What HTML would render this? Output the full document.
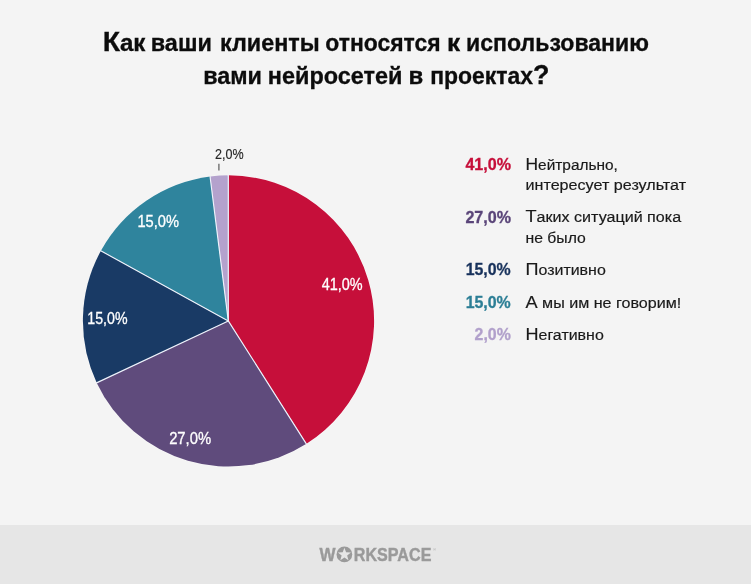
<!DOCTYPE html>
<html lang="ru">
<head>
<meta charset="utf-8">
<title>Как ваши клиенты относятся к использованию вами нейросетей в проектах?</title>
<style>
html,body{margin:0;padding:0;background:#f4f4f4;}
body{width:751px;height:584px;overflow:hidden;}
svg{display:block;}
text{font-family:"Liberation Sans","DejaVu Sans",sans-serif;}
.title{font-weight:bold;fill:#0c0c0c;stroke:#0c0c0c;stroke-width:0.3;}
.pl{font-size:16px;fill:#ffffff;stroke:#ffffff;stroke-width:0.3;}
.pl2{font-size:14px;fill:#262626;stroke:#262626;stroke-width:0.15;}
.lp{font-size:16px;font-weight:bold;stroke-width:0.3;}
.cap{font-size:17.4px;}
.lt{font-size:15.4px;fill:#1a1a1a;stroke:#1a1a1a;stroke-width:0.18;}
.logo{font-size:17.9px;font-weight:bold;fill:#9a9a9a;stroke:#9a9a9a;stroke-width:0.4;}
.reg{font-size:4.2px;fill:#a8a8a8;}
</style>
</head>
<body>
<svg width="751" height="584" viewBox="0 0 751 584">
<rect x="0" y="0" width="751" height="584" fill="#f4f4f4"/>
<rect x="0" y="525" width="751" height="59" fill="#e6e6e6"/>
<circle cx="228.5" cy="320.9" r="146.0" fill="#fbfbfb"/>
<path d="M228.3,320.9 L228.50,175.30 A145.6,145.6 0 0 1 306.52,443.83 Z" fill="#c60f3a"/>
<path d="M228.3,320.9 L306.52,443.83 A145.6,145.6 0 0 1 96.76,382.89 Z" fill="#5f4b7c"/>
<path d="M228.3,320.9 L96.76,382.89 A145.6,145.6 0 0 1 100.91,250.76 Z" fill="#193a65"/>
<path d="M228.3,320.9 L100.91,250.76 A145.6,145.6 0 0 1 210.25,176.45 Z" fill="#2f849d"/>
<path d="M228.3,320.9 L210.25,176.45 A145.6,145.6 0 0 1 228.50,175.30 Z" fill="#b4a2cd"/>
<g stroke="#eef2fb" stroke-width="1.15" stroke-linecap="round">
<line x1="228.3" y1="320.9" x2="228.30" y2="175.30"/>
<line x1="228.3" y1="320.9" x2="306.32" y2="443.83"/>
<line x1="228.3" y1="320.9" x2="96.56" y2="382.89"/>
<line x1="228.3" y1="320.9" x2="100.71" y2="250.76"/>
<line x1="228.3" y1="320.9" x2="210.05" y2="176.45"/>
</g>
<line x1="218.9" y1="163.8" x2="218.9" y2="170.5" stroke="#666" stroke-width="1.3"/>
<g class="title">
<text x="102.65" y="50.8" textLength="42.81" lengthAdjust="spacingAndGlyphs" class="title" font-size="23.0"><tspan font-size="27">К</tspan>ак</text>
<text x="150.76" y="50.8" textLength="61.08" lengthAdjust="spacingAndGlyphs" class="title" font-size="23.0">ваши</text>
<text x="220.04" y="50.8" textLength="99.66" lengthAdjust="spacingAndGlyphs" class="title" font-size="23.0">клиенты</text>
<text x="325.32" y="50.8" textLength="115.17" lengthAdjust="spacingAndGlyphs" class="title" font-size="23.0">относятся</text>
<text x="447.14" y="50.8" textLength="13.14" lengthAdjust="spacingAndGlyphs" class="title" font-size="23.0">к</text>
<text x="466.1" y="50.8" textLength="182.82" lengthAdjust="spacingAndGlyphs" class="title" font-size="23.0">использованию</text>
</g>
<g class="title">
<text x="203.2" y="83.5" textLength="58.77" lengthAdjust="spacingAndGlyphs" class="title" font-size="23.0">вами</text>
<text x="267.88" y="83.5" textLength="134.49" lengthAdjust="spacingAndGlyphs" class="title" font-size="23.0">нейросетей</text>
<text x="408.43" y="83.5" textLength="14.76" lengthAdjust="spacingAndGlyphs" class="title" font-size="23.0">в</text>
<text x="430.17" y="83.5" textLength="119.32" lengthAdjust="spacingAndGlyphs" class="title" font-size="23.0">проектах<tspan font-size="27">?</tspan></text>
</g>
<text x="321.64" y="289.7" textLength="40.91" lengthAdjust="spacingAndGlyphs" class="pl">41,0%</text>
<text x="169.14" y="443.6" textLength="41.99" lengthAdjust="spacingAndGlyphs" class="pl">27,0%</text>
<text x="87.33" y="323.5" textLength="40.19" lengthAdjust="spacingAndGlyphs" class="pl">15,0%</text>
<text x="137.45" y="226.5" textLength="41.55" lengthAdjust="spacingAndGlyphs" class="pl">15,0%</text>
<text x="215.01" y="159.4" textLength="28.63" lengthAdjust="spacingAndGlyphs" class="pl2">2,0%</text>
<text x="465.4" y="170.0" textLength="45.6" lengthAdjust="spacingAndGlyphs" class="lp" fill="#c60f3a" stroke="#c60f3a">41,0%</text>
<text x="525.5" y="170.0" textLength="92.4" lengthAdjust="spacingAndGlyphs" class="lt"><tspan class="cap">Н</tspan>ейтрально,</text>
<text x="525.5" y="190.1" textLength="160.6" lengthAdjust="spacingAndGlyphs" class="lt">интересует результат</text>
<text x="465.4" y="222.9" textLength="45.6" lengthAdjust="spacingAndGlyphs" class="lp" fill="#5a4579" stroke="#5a4579">27,0%</text>
<text x="525.5" y="222.4" textLength="155.6" lengthAdjust="spacingAndGlyphs" class="lt"><tspan class="cap">Т</tspan>аких ситуаций пока</text>
<text x="525.5" y="242.5" textLength="60.3" lengthAdjust="spacingAndGlyphs" class="lt">не было</text>
<text x="465.7" y="275.3" textLength="45.0" lengthAdjust="spacingAndGlyphs" class="lp" fill="#17315b" stroke="#17315b">15,0%</text>
<text x="525.5" y="275.3" textLength="80.3" lengthAdjust="spacingAndGlyphs" class="lt"><tspan class="cap">П</tspan>озитивно</text>
<text x="465.7" y="308.0" textLength="45.0" lengthAdjust="spacingAndGlyphs" class="lp" fill="#2b7e95" stroke="#2b7e95">15,0%</text>
<text x="525.5" y="308.0" textLength="155.8" lengthAdjust="spacingAndGlyphs" class="lt"><tspan class="cap">А</tspan> мы им не говорим!</text>
<text x="474.6" y="340.4" textLength="36.2" lengthAdjust="spacingAndGlyphs" class="lp" fill="#b1a0cb" stroke="#b1a0cb">2,0%</text>
<text x="525.5" y="340.4" textLength="78.3" lengthAdjust="spacingAndGlyphs" class="lt"><tspan class="cap">Н</tspan>егативно</text>
<g>
<text x="319.6" y="561.2" textLength="16.0" lengthAdjust="spacingAndGlyphs" class="logo">W</text>
<text x="337.6" y="561.2" textLength="13.6" lengthAdjust="spacingAndGlyphs" class="logo">O</text>
<circle cx="344.4" cy="554.4" r="7.85" fill="#9a9a9a"/>
<polygon fill="#e6e6e6" points="344.40,547.80 346.10,552.35 350.96,552.57 347.16,555.60 348.46,560.28 344.40,557.60 340.34,560.28 341.64,555.60 337.84,552.57 342.70,552.35"/>
<text x="353.8" y="561.2" textLength="77.6" lengthAdjust="spacingAndGlyphs" class="logo">RKSPACE</text>
<text x="433" y="551" class="reg">®</text>
</g>
</svg>
</body>
</html>
